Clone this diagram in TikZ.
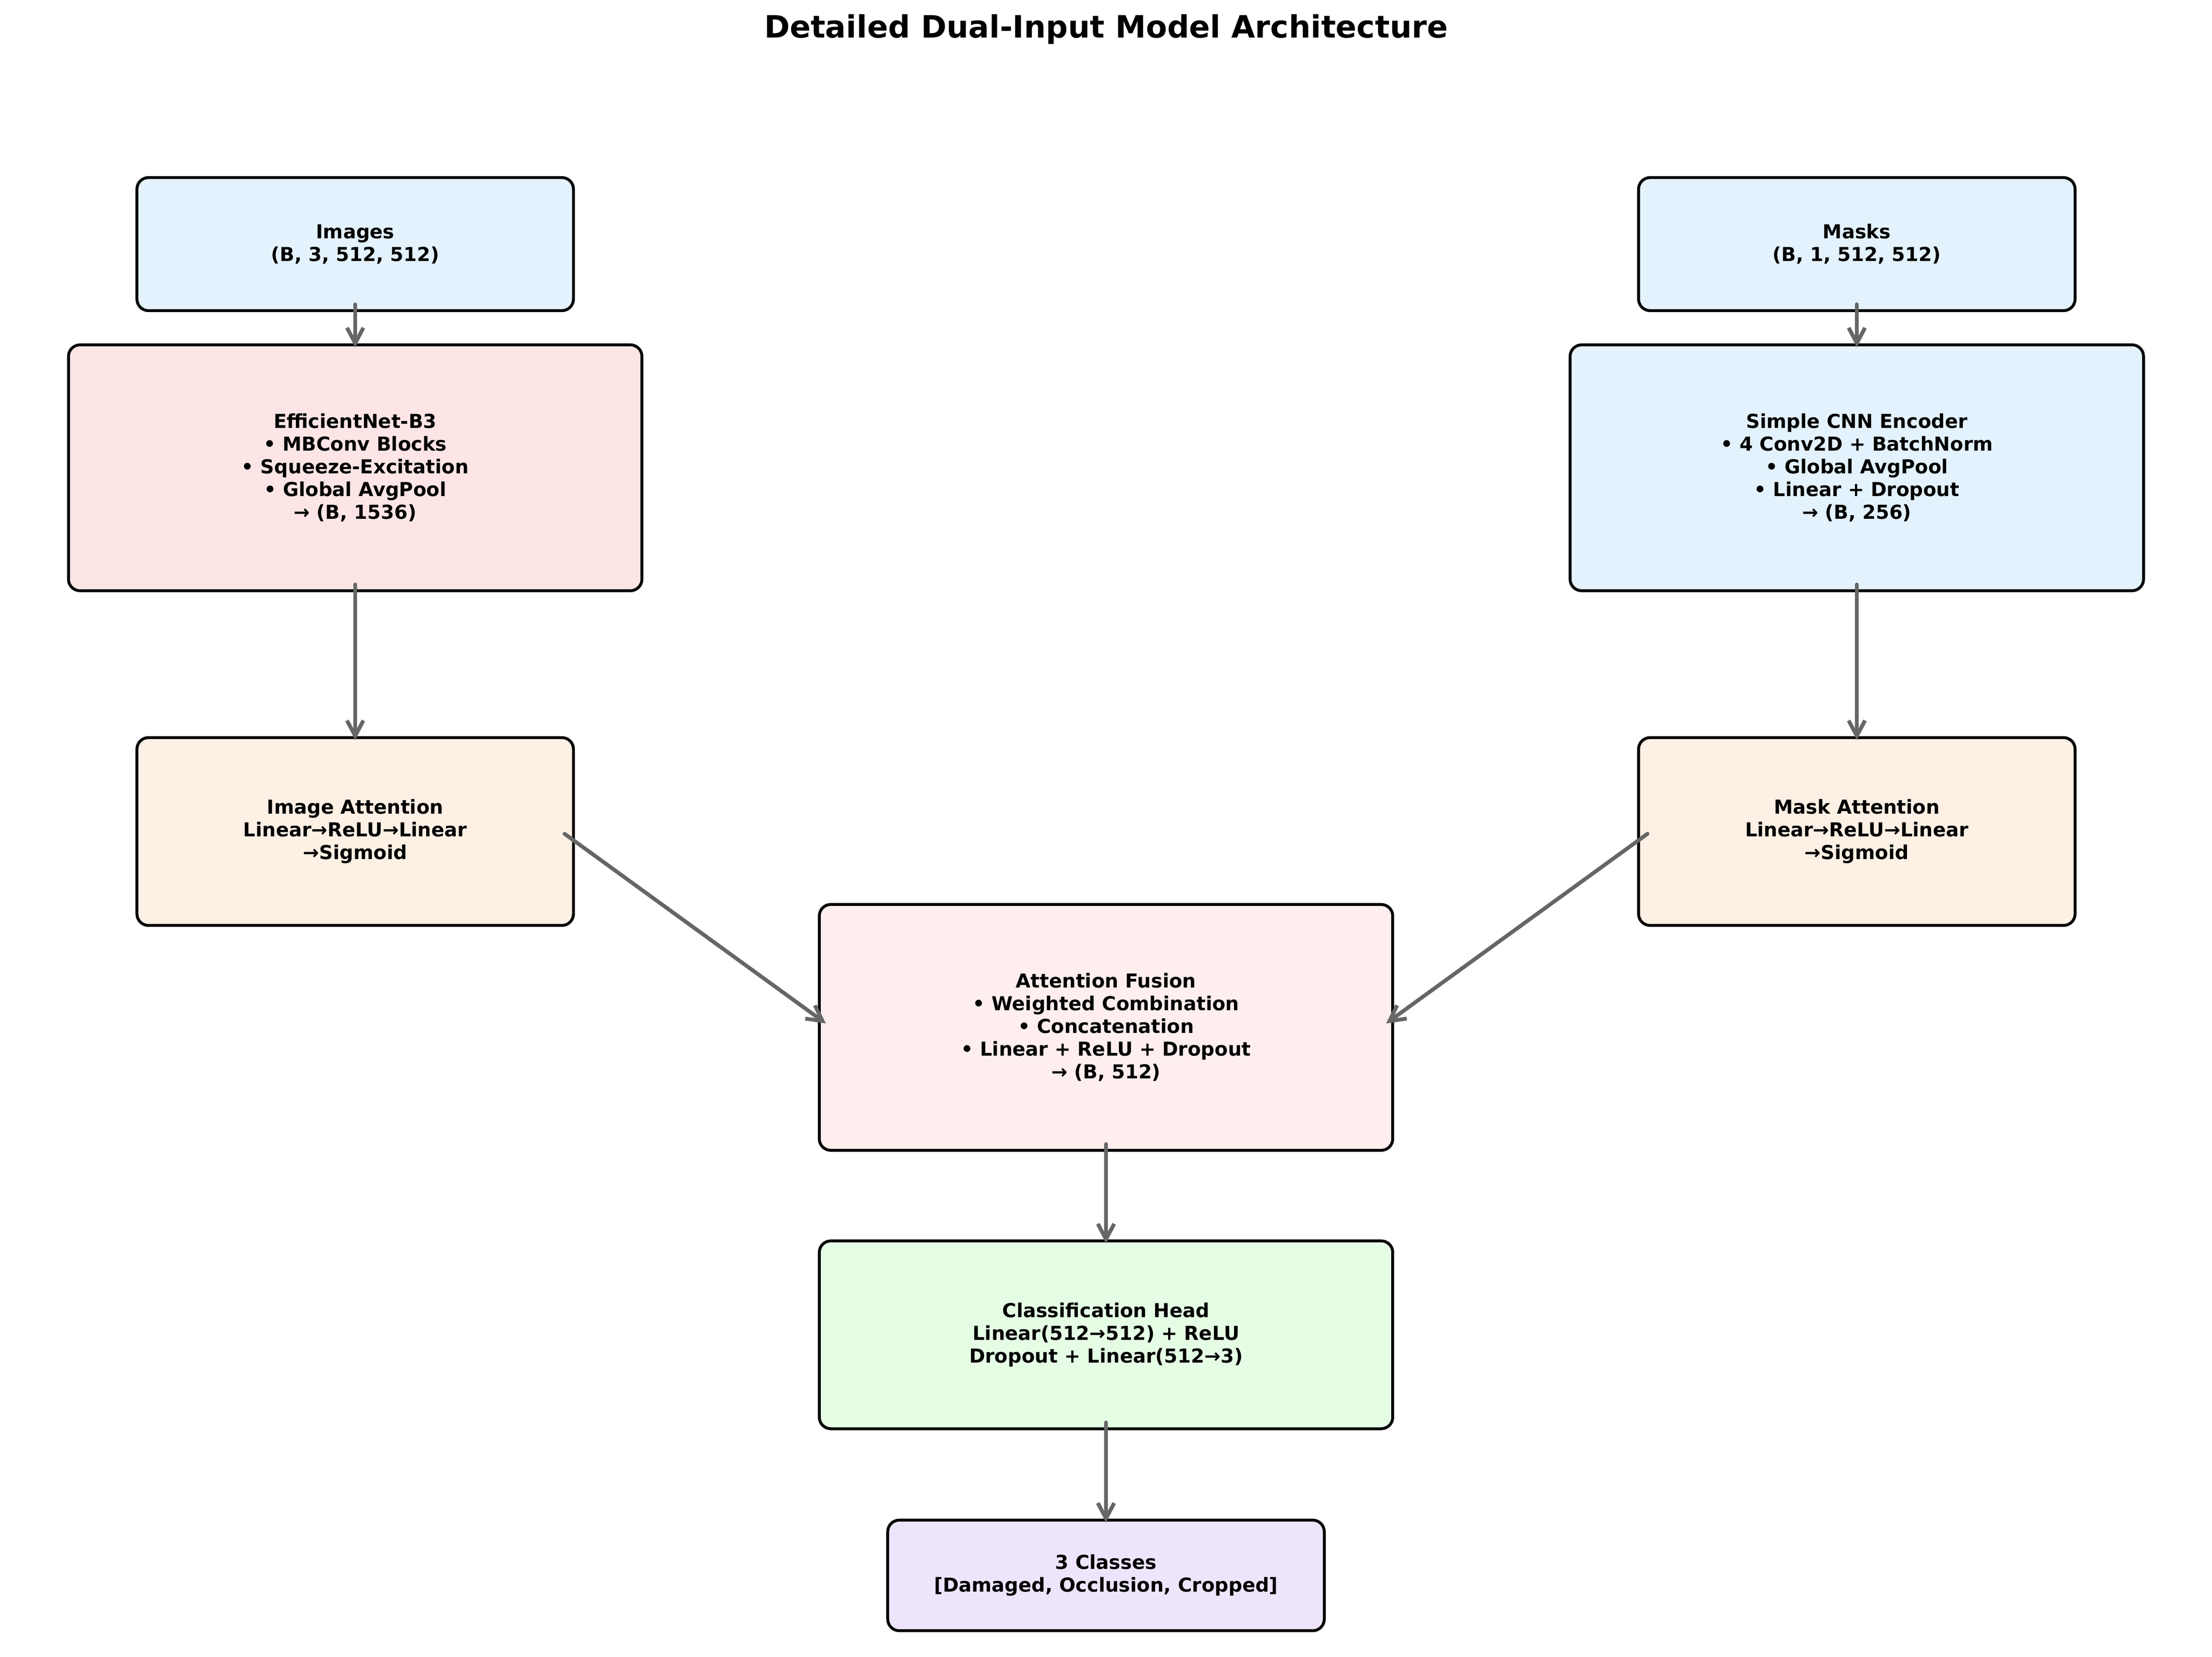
\documentclass[tikz,border=0pt]{standalone}
\usepackage{fontspec}
\setmainfont{DejaVu Sans}
\usetikzlibrary{arrows.meta}
\definecolor{inblue}{RGB}{227,242,253}
\definecolor{effpink}{RGB}{253,229,229}
\definecolor{attorange}{RGB}{253,240,228}
\definecolor{fuspink}{RGB}{254,238,238}
\definecolor{headgreen}{RGB}{229,253,229}
\definecolor{outpurple}{RGB}{238,229,253}
\definecolor{arrgray}{RGB}{102,102,102}
\begin{document}
\begin{tikzpicture}[
    blk/.style={draw, line width=1.5pt, rounded corners=6pt, inner sep=0pt, align=center,
      font=\bfseries\fontsize{10}{11.8}\selectfont},
    arr/.style={draw=arrgray, line width=2pt, line cap=round, line join=round,
      -{Straight Barb[length=8pt,width=8.5pt]}, shorten <=-4pt, shorten >=-2pt}]
      \useasboundingbox (0,0) rectangle (40.386,-30.260);
      \node[font=\bfseries\fontsize{16}{19}\selectfont, anchor=base] (title) at (20.193,-0.694) {Detailed Dual-Input Model Architecture};
      \node[blk, fill=inblue, minimum width=7.97cm, minimum height=2.43cm] (img) at (6.485,-4.458) {Images\\(B, 3, 512, 512)};
      \node[blk, fill=inblue, minimum width=7.97cm, minimum height=2.43cm] (msk) at (33.901,-4.458) {Masks\\(B, 1, 512, 512)};
      \node[blk, fill=effpink, minimum width=10.47cm, minimum height=4.49cm] (eff) at (6.485,-8.543) {EfficientNet-B3\\• MBConv Blocks\\• Squeeze-Excitation\\• Global AvgPool\\→ (B, 1536)};
      \node[blk, fill=inblue, minimum width=10.47cm, minimum height=4.49cm] (cnn) at (33.901,-8.543) {Simple CNN Encoder\\• 4 Conv2D + BatchNorm\\• Global AvgPool\\• Linear + Dropout\\→ (B, 256)};
      \node[blk, fill=attorange, minimum width=7.97cm, minimum height=3.43cm] (iatt) at (6.485,-15.185) {Image Attention\\Linear→ReLU→Linear\\→Sigmoid};
      \node[blk, fill=attorange, minimum width=7.97cm, minimum height=3.43cm] (matt) at (33.901,-15.185) {Mask Attention\\Linear→ReLU→Linear\\→Sigmoid};
      \node[blk, fill=fuspink, minimum width=10.47cm, minimum height=4.49cm] (fus) at (20.193,-18.762) {Attention Fusion\\• Weighted Combination\\• Concatenation\\• Linear + ReLU + Dropout\\→ (B, 512)};
      \node[blk, fill=headgreen, minimum width=10.47cm, minimum height=3.43cm] (head) at (20.193,-24.376) {Classification Head\\Linear(512→512) + ReLU\\Dropout + Linear(512→3)};
      \node[blk, fill=outpurple, minimum width=7.97cm, minimum height=2.02cm] (out) at (20.193,-28.770) {3 Classes\\{[Damaged, Occlusion, Cropped]}};
      \draw[arr] (img.south) -- (eff.north);
      \draw[arr] (msk.south) -- (cnn.north);
      \draw[arr] (eff.south) -- (iatt.north);
      \draw[arr] (cnn.south) -- (matt.north);
      \draw[arr, shorten <=2pt, shorten >=3.5pt] ([xshift=-7pt]iatt.east) -- ([xshift=7pt]fus.west);
      \draw[arr, shorten <=2pt, shorten >=3.5pt] ([xshift=7pt]matt.west) -- ([xshift=-7pt]fus.east);
      \draw[arr] (fus.south) -- (head.north);
      \draw[arr] (head.south) -- (out.north);
    \end{tikzpicture}
\end{document}
